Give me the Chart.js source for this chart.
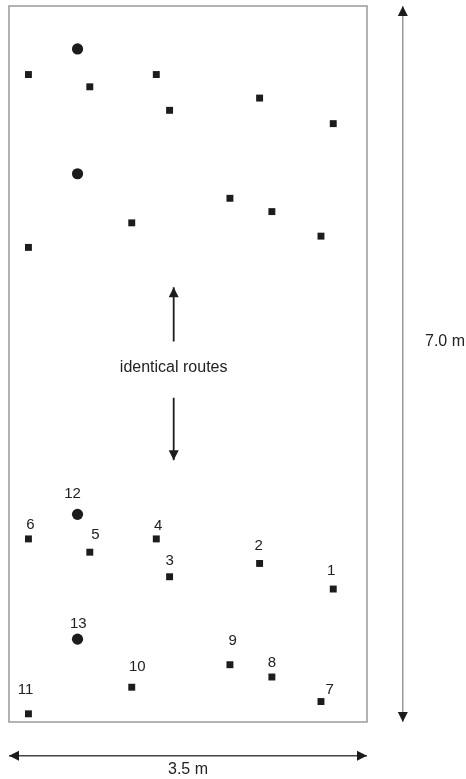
<!DOCTYPE html>
<html lang="en">
<head>
<meta charset="UTF-8">
<title>Identical routes</title>
<script src="https://cdn.jsdelivr.net/npm/chart.js@4.4.1/dist/chart.umd.min.js"></script>
<style>
  html, body { margin: 0; padding: 0; background: #fff; }
  #wrap { position: relative; width: 466px; height: 779px; }
</style>
</head>
<body>
<div id="wrap"><canvas id="chart"></canvas></div>
<script>
// room size in metres
const roomWidth = 3.5;
const roomLength = 7.0;
const widthLabel = '3.5 m';
const lengthLabel = '7.0 m';
const routeNote = 'identical routes';

// lower route: numbered stops (squares) and the two beacons (circles)
const stopIds = ['1', '2', '3', '4', '5', '6', '7', '8', '9', '10', '11'];
const stopX = [3.17, 2.45, 1.57, 1.44, 0.79, 0.19, 3.05, 2.57, 2.16, 1.20, 0.19];
const stopY = [1.30, 1.55, 1.42, 1.79, 1.66, 1.79, 0.20, 0.44, 0.56, 0.34, 0.08];
const beaconIds = ['12', '13'];
const beaconX = [0.67, 0.67];
const beaconY = [2.03, 0.81];

// upper route, same layout, no numbers
const upperStopX = [3.17, 2.45, 1.57, 1.44, 0.79, 0.19, 3.05, 2.57, 2.16, 1.20, 0.19];
const upperStopY = [5.85, 6.10, 5.98, 6.33, 6.21, 6.33, 4.75, 4.99, 5.12, 4.88, 4.64];
const upperBeaconX = [0.67, 0.67];
const upperBeaconY = [6.58, 5.36];

// where each number sits relative to its marker (px)
const labelShift = {
  '1': [-2, -18], '2': [-1, -18], '3': [0, -16], '4': [2, -13], '5': [5.5, -17],
  '6': [2, -14], '7': [8.7, -12], '8': [0, -14], '9': [2.7, -24], '10': [5.5, -20],
  '11': [-3, -24], '12': [-5, -21], '13': [0.7, -15]
};

const toPoints = (xs, ys) => xs.map((x, i) => ({ x: x, y: ys[i] }));

const INK = '#1c1c1c';
const TEXT = '#222';
const FONT = '"Liberation Sans", Arial, sans-serif';

function head(ctx, tx, ty, angle, len, half) {
  ctx.save();
  ctx.translate(tx, ty);
  ctx.rotate(angle);
  ctx.beginPath();
  ctx.moveTo(0, 0);
  ctx.lineTo(-len, -half);
  ctx.lineTo(-len, half);
  ctx.closePath();
  ctx.fill();
  ctx.restore();
}

function arrow(ctx, x1, y1, x2, y2, both, lineColor, headColor, width) {
  const ang = Math.atan2(y2 - y1, x2 - x1);
  ctx.strokeStyle = lineColor;
  ctx.lineWidth = width;
  ctx.beginPath();
  ctx.moveTo(x1, y1);
  ctx.lineTo(x2, y2);
  ctx.stroke();
  ctx.fillStyle = headColor;
  head(ctx, x2, y2, ang, 10, 5);
  if (both) head(ctx, x1, y1, ang + Math.PI, 10, 5);
}

const sketch = {
  id: 'sketch',
  beforeDatasetsDraw(chart) {
    const { ctx, chartArea: a } = chart;
    ctx.save();
    ctx.strokeStyle = '#8a8a8a';
    ctx.lineWidth = 1.3;
    ctx.strokeRect(a.left, a.top, a.right - a.left, a.bottom - a.top);
    ctx.restore();
  },
  afterDatasetsDraw(chart) {
    const { ctx, scales: { x, y } } = chart;
    ctx.save();

    // dimension arrows
    const vx = x.getPixelForValue(3.85);
    arrow(ctx, vx, y.getPixelForValue(0), vx, y.getPixelForValue(roomLength), true, '#8a8a8a', INK, 1.3);
    const hy = y.getPixelForValue(-0.33);
    arrow(ctx, x.getPixelForValue(0), hy, x.getPixelForValue(roomWidth), hy, true, '#444', INK, 1.6);

    ctx.fillStyle = TEXT;
    ctx.textBaseline = 'middle';
    ctx.font = '16px ' + FONT;
    ctx.textAlign = 'left';
    ctx.fillText(lengthLabel, 425, y.getPixelForValue(3.72));
    ctx.textAlign = 'center';
    ctx.fillText(widthLabel, x.getPixelForValue(roomWidth / 2), hy + 14);

    // identical routes note
    const ax = x.getPixelForValue(1.61);
    arrow(ctx, ax, y.getPixelForValue(3.72), ax, y.getPixelForValue(4.25), false, INK, INK, 1.8);
    arrow(ctx, ax, y.getPixelForValue(3.17), ax, y.getPixelForValue(2.56), false, INK, INK, 1.8);
    ctx.fillStyle = TEXT;
    ctx.font = '16px ' + FONT;
    ctx.fillText(routeNote, ax, y.getPixelForValue(3.46));

    // numbers on the lower route
    ctx.font = '15px ' + FONT;
    [[0, stopIds], [1, beaconIds]].forEach(([di, ids]) => {
      chart.getDatasetMeta(di).data.forEach((pt, i) => {
        const s = labelShift[ids[i]] || [0, -16];
        ctx.fillText(ids[i], pt.x + s[0], pt.y + s[1]);
      });
    });
    ctx.restore();
  }
};

const squareStyle = { pointStyle: 'rect', pointRadius: 4.9, borderWidth: 0, backgroundColor: INK };
const dotStyle = { pointStyle: 'circle', pointRadius: 5.6, borderWidth: 0, backgroundColor: INK };

new Chart(document.getElementById('chart'), {
  type: 'scatter',
  data: {
    datasets: [
      Object.assign({ label: 'stops', data: toPoints(stopX, stopY) }, squareStyle),
      Object.assign({ label: 'beacons', data: toPoints(beaconX, beaconY) }, dotStyle),
      Object.assign({ label: 'stops (upper)', data: toPoints(upperStopX, upperStopY) }, squareStyle),
      Object.assign({ label: 'beacons (upper)', data: toPoints(upperBeaconX, upperBeaconY) }, dotStyle)
    ]
  },
  options: {
    responsive: true,
    maintainAspectRatio: false,
    animation: false,
    layout: { padding: { left: 9, top: 6, right: 99, bottom: 57 } },
    scales: {
      x: { type: 'linear', min: 0, max: roomWidth, display: false },
      y: { type: 'linear', min: 0, max: roomLength, display: false }
    },
    plugins: {
      legend: { display: false },
      tooltip: { enabled: false }
    }
  },
  plugins: [sketch]
});
</script>
</body>
</html>
